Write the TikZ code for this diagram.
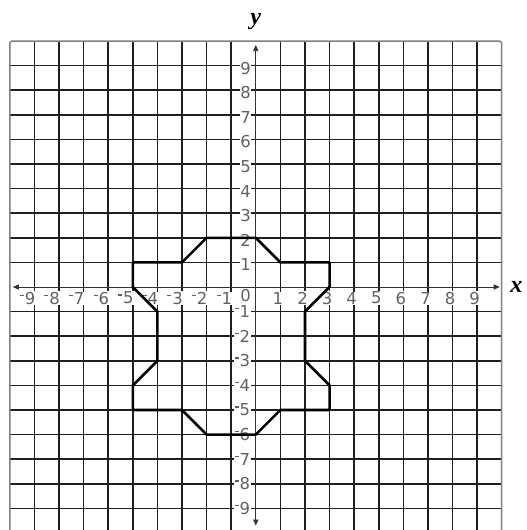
\documentclass[tikz,border=0pt]{standalone}
\usepackage{fontspec}
\newfontfamily\labfont{DejaVu Sans}
\newfontfamily\axfont{Liberation Serif}
\usetikzlibrary{arrows.meta}
\newcommand{\ngs}{\raisebox{0.5em}{\rule{0.24em}{0.08em}}\hspace{0.06em}}
\begin{document}
\begin{tikzpicture}[x=1cm,y=1cm,
  gridline/.style={line width=1.9pt, draw=black!88},
  border/.style={line width=1.7pt, draw=black!50, rounded corners=2pt},
  axisline/.style={line width=0.9pt, draw=black!80, {Triangle[length=7pt,width=6pt]}-{Triangle[length=7pt,width=6pt]}},
  lab/.style={font=\labfont\fontsize{19}{19}\selectfont, text=black!62, fill=white, inner sep=0.6pt},
  axlab/.style={font=\axfont\bfseries\itshape\fontsize{28}{28}\selectfont, inner sep=0pt},
  figure/.style={line width=3pt, draw=black, line join=round}]
\useasboundingbox (-10.4,-9.88) rectangle (11.02,11.67);
\clip (-10.4,-9.88) rectangle (11.02,11.67);
% grid
\foreach \i in {-9,...,-1,1,2,...,9} {
  \draw[gridline] (\i,-10.5) -- (\i,10);
  \draw[gridline] (-10,\i) -- (10,\i);
}
\draw[border] (-10,-10.5) rectangle (10,10);
% x labels
\foreach \i in {1,...,9} {
  \node[lab] (xp\i) at (\i-0.1,-0.45) {\i};
  \node[lab, anchor=east] (xn\i) at (-\i+0.06,-0.45) {\ngs\i};
}
% y labels
\foreach \i in {1,...,9} {
  \node[lab] (yp\i) at (-0.41,\i-0.1) {\i};
  \node[lab, anchor=east] (yn\i) at (-0.2,-\i) {\ngs\i};
}
\node[lab] (o) at (-0.41,-0.33) {0};
% axes
\coordinate (xl) at (-9.88,0);
\coordinate (xr) at (9.92,0);
\coordinate (yb) at (0,-9.7);
\coordinate (yt) at (0,9.84);
\draw[axisline] (xl) -- (xr);
\draw[axisline] (yb) -- (yt);
\node[axlab] (xname) at (10.6,0) {x};
\node[axlab] (yname) at (0,10.78) {y};
% figure
\draw[figure] (-5,1) -- (-3,1) -- (-2,2) -- (0,2) -- (1,1) -- (3,1) -- (3,0)
  -- (2,-1) -- (2,-3) -- (3,-4) -- (3,-5) -- (1,-5) -- (0,-6) -- (-2,-6)
  -- (-3,-5) -- (-5,-5) -- (-5,-4) -- (-4,-3) -- (-4,-1) -- (-5,0) -- cycle;
\end{tikzpicture}
\end{document}
